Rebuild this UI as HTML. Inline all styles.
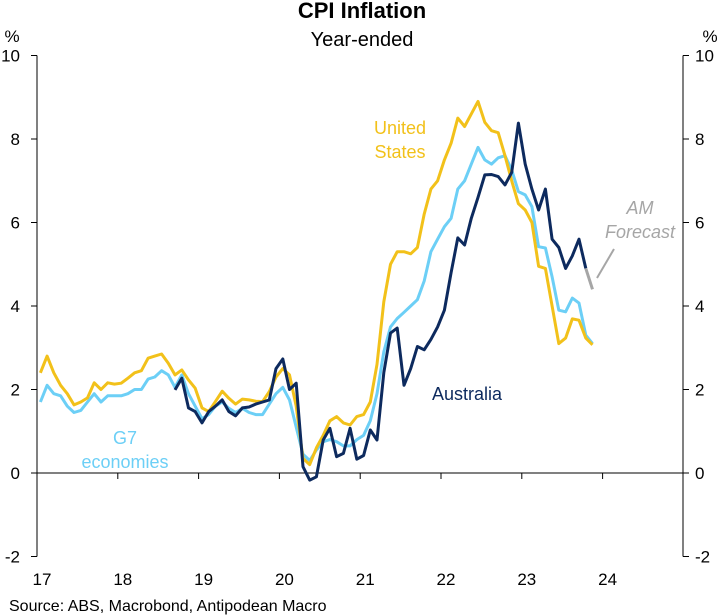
<!DOCTYPE html>
<html><head><meta charset="utf-8"><style>
body{margin:0;background:#fff;}
svg{display:block;font-family:"Liberation Sans",Arial,sans-serif;}
</style></head><body>
<svg id="chart" width="724" height="616" viewBox="0 0 724 616">
<text x="362" y="18" text-anchor="middle" font-size="22" font-weight="bold">CPI Inflation</text>
<text x="362" y="46" text-anchor="middle" font-size="20">Year-ended</text>
<text x="12" y="42" text-anchor="middle" font-size="17">%</text>
<text x="710" y="42" text-anchor="middle" font-size="17">%</text>
<g id="axes"></g>
<g id="series"></g>
<text x="400" y="134" text-anchor="middle" font-size="18" fill="#f2c11a">United</text>
<text x="400" y="158" text-anchor="middle" font-size="18" fill="#f2c11a">States</text>
<text x="467" y="400" text-anchor="middle" font-size="18" fill="#0d2a5e">Australia</text>
<text x="125" y="444" text-anchor="middle" font-size="18" fill="#6ccff6">G7</text>
<text x="125" y="468" text-anchor="middle" font-size="18" fill="#6ccff6">economies</text>
<text x="640" y="214" text-anchor="middle" font-size="18" font-style="italic" fill="#a6a6a6">AM</text>
<text x="640" y="238" text-anchor="middle" font-size="18" font-style="italic" fill="#a6a6a6">Forecast</text>
<line x1="597" y1="278" x2="614" y2="249" stroke="#a6a6a6" stroke-width="2"/>
<text x="9" y="611" font-size="16">Source: ABS, Macrobond, Antipodean Macro</text>
</svg>
<script>
const yTicks=[10,8,6,4,2,0,-2];
const years=["17","18","19","20","21","22","23","24"];
const us=[2.4,2.8,2.4,2.1,1.9,1.63,1.7,1.8,2.16,2.0,2.16,2.13,2.15,2.27,2.4,2.45,2.75,2.8,2.85,2.63,2.35,2.47,2.23,2.03,1.56,1.47,1.71,1.96,1.79,1.65,1.77,1.75,1.72,1.71,1.95,2.3,2.5,2.35,1.6,0.35,0.2,0.6,0.9,1.25,1.35,1.2,1.15,1.35,1.4,1.7,2.6,4.1,5.0,5.3,5.3,5.25,5.4,6.2,6.8,7.0,7.5,7.9,8.5,8.3,8.6,8.9,8.4,8.2,8.15,7.6,7.0,6.45,6.3,6.0,4.95,4.9,4.0,3.1,3.23,3.69,3.66,3.23,3.07];
const g7=[1.7,2.1,1.9,1.85,1.6,1.45,1.5,1.7,1.9,1.7,1.85,1.85,1.85,1.9,2.0,2.0,2.25,2.3,2.45,2.35,2.05,2.35,1.9,1.6,1.3,1.4,1.6,1.7,1.55,1.45,1.55,1.45,1.4,1.4,1.65,1.9,2.05,1.75,1.1,0.45,0.3,0.55,0.75,0.8,0.75,0.65,0.65,0.8,0.9,1.25,1.9,2.9,3.5,3.7,3.85,4.0,4.15,4.6,5.3,5.6,5.9,6.1,6.8,7.0,7.4,7.8,7.5,7.4,7.55,7.6,7.26,6.74,6.66,6.38,5.42,5.39,4.7,3.9,3.86,4.19,4.07,3.3,3.1];
const ausStart=20;
const aus=[1.99,2.27,1.56,1.47,1.2,1.47,1.6,1.75,1.47,1.37,1.56,1.58,1.65,1.7,1.75,2.5,2.73,2.0,2.15,0.15,-0.17,-0.09,0.79,1.07,0.39,0.47,1.07,0.33,0.42,1.03,0.79,2.4,3.35,3.47,2.1,2.5,3.03,2.95,3.2,3.5,3.9,4.8,5.63,5.46,6.1,6.6,7.14,7.15,7.1,6.9,7.2,8.38,7.4,6.8,6.3,6.8,5.6,5.4,4.9,5.2,5.6,4.9];
const forecast=[4.9,4.4];
const NS="http://www.w3.org/2000/svg";
const X0=37,PY=80.8;
function xm(m){return X0+PY*((m+0.5)/12);}
function xy(i){return X0+PY*i;}
function y(v){return 473-41.75*v;}
const axes=document.getElementById('axes'),ser=document.getElementById('series');
function mk(tag,attrs,parent){const e=document.createElementNS(NS,tag);for(const k in attrs)e.setAttribute(k,attrs[k]);parent.appendChild(e);return e;}
let e;
e=mk('line',{x1:37,y1:y(10),x2:37,y2:y(-2),stroke:'#000','stroke-width':1},axes);


e=mk('line',{x1:683,y1:y(10),x2:683,y2:y(-2),stroke:'#000','stroke-width':1},axes);


e=mk('line',{x1:37,y1:y(0),x2:683,y2:y(0),stroke:'#000','stroke-width':1},axes);


yTicks.forEach(v=>{
 e=mk('line',{x1:31,y1:y(v),x2:37,y2:y(v),stroke:'#000'},axes);
 
 
 e=mk('line',{x1:683,y1:y(v),x2:689,y2:y(v),stroke:'#000'},axes);
 
 
 e=mk('text',{x:20,y:y(v)+6,'text-anchor':'end','font-size':17},axes);e.textContent=v;
 
 
 e=mk('text',{x:695,y:y(v)+6,'text-anchor':'start','font-size':17},axes);e.textContent=v;
 
 
});
years.forEach((lab,i)=>{
 e=mk('line',{x1:xy(i),y1:y(0),x2:xy(i),y2:y(0)+6,stroke:'#000'},axes);
 
 
 e=mk('text',{x:xy(i)+5,y:585,'text-anchor':'middle','font-size':17},axes);e.textContent=lab;
 
 
});
function line(vals,start,color,name,w){
 const d=vals.map((v,i)=>(i?'L':'M')+xm(start+i).toFixed(1)+','+y(v).toFixed(1)).join('');
 const p=mk('path',{d:d,fill:'none',stroke:color,'stroke-width':w||3,'stroke-linejoin':'round'},ser);
 
 
}
line(g7,0,'#6ccff6','g7-line');
line(us,0,'#f2c11a','us-line');
line(aus,ausStart,'#0d2a5e','australia-line');
line(forecast,ausStart+aus.length-1,'#a6a6a6','forecast-line');
</script>
</body></html>
